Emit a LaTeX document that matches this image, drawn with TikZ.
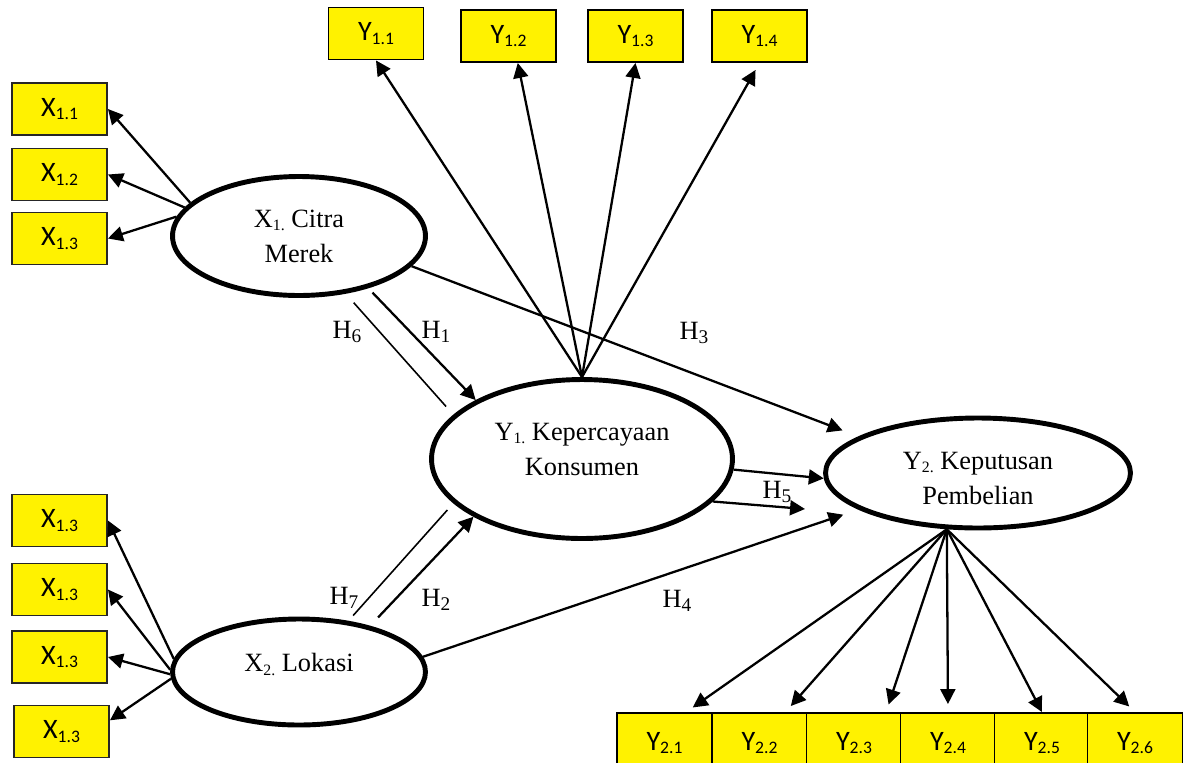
\documentclass[tikz,border=0pt]{standalone}
\usepackage{fontspec}
\setmainfont{Liberation Serif}
\newfontfamily\boxfont{Carlito}
\usetikzlibrary{shapes.geometric,arrows.meta}
\newcommand{\subidx}[2][9]{\raisebox{-2pt}{\fontsize{#1}{#1}\selectfont #2}}

\begin{document}
\begin{tikzpicture}[x=0.02cm,y=-0.02cm,>={Triangle[length=8.5pt,width=8.5pt]}]
    \useasboundingbox (0,0) rectangle (1184,762);

    % Stijlen
    \tikzset{ind/.style={rectangle, draw=black!85, line width=1.1pt, fill=yellow,
                 minimum width=1.9cm, minimum height=1.04cm, inner sep=0pt,
                 font=\boxfont\fontsize{16}{18}\selectfont},
             lat/.style={ellipse, draw, line width=2.8pt, align=center, inner sep=1pt,
                 font=\fontsize{15}{20}\selectfont},
             lbl/.style={inner sep=0pt, font=\fontsize{15}{18}\selectfont},
             pad/.style={->, line width=1.3pt},
             hyp/.style={->, line width=1.3pt},
             ind line/.style={line width=0.9pt}}

    % Konstruk
    \node[lat, minimum width=5.06cm, minimum height=2.38cm] (x1) at (299,236) {X\subidx{1.} Citra\\Merek};
    \node[lat, minimum width=6.02cm, minimum height=3.18cm] (y1) at (582,459) {Y\subidx{1.} Kepercayaan\\Konsumen\rule[-11.4pt]{0pt}{11.4pt}};
    \node[lat, minimum width=6.1cm, minimum height=2.2cm] (y2) at (978,473) {\rule{0pt}{16pt}Y\subidx{2.} Keputusan\\Pembelian};
    \node[lat, minimum width=5.06cm, minimum height=2.12cm] (x2) at (299,672) {X\subidx{2.} Lokasi\rule[-11pt]{0pt}{11pt}};

    % Indikator X1
    \node[ind] (xa) at (59.5,109) {X\subidx[10]{1.1}};
    \node[ind] (xb) at (59.5,174.5) {X\subidx[10]{1.2}};
    \node[ind] (xc) at (59.5,238.5) {X\subidx[10]{1.3}};

    % Indikator X2
    \node[ind] (xd) at (59.5,520.5) {X\subidx[10]{1.3}};
    \node[ind] (xe) at (59.5,589.5) {X\subidx[10]{1.3}};
    \node[ind] (xf) at (59.5,657) {X\subidx[10]{1.3}};
    \node[ind] (xg) at (61.5,731.5) {X\subidx[10]{1.3}};

    % Indikator Y1
    \node[ind, draw=black] (ya) at (376,33.5) {Y\subidx[10]{1.1}};
    \node[ind, draw=black] (yb) at (508.5,36) {Y\subidx[10]{1.2}};
    \node[ind, draw=black] (yc) at (635.5,36) {Y\subidx[10]{1.3}};
    \node[ind, draw=black] (yd) at (759.5,36) {Y\subidx[10]{1.4}};

    % Indikator Y2
    \node[ind, draw=black, minimum height=1.2cm] (y2a) at (664.5,743) {Y\subidx[10]{2.1}};
    \node[ind, draw=black, minimum height=1.2cm] (y2b) at (759.5,743) {Y\subidx[10]{2.2}};
    \node[ind, draw=black, minimum height=1.2cm] (y2c) at (854,743) {Y\subidx[10]{2.3}};
    \node[ind, draw=black, minimum height=1.2cm] (y2d) at (948,743) {Y\subidx[10]{2.4}};
    \node[ind, draw=black, minimum height=1.2cm] (y2e) at (1042,743) {Y\subidx[10]{2.5}};
    \node[ind, draw=black, minimum height=1.2cm] (y2f) at (1135,743) {Y\subidx[10]{2.6}};

    % Hipotesis
    \node[lbl] (h6) at (347,332) {H\subidx[11]{6}};
    \node[lbl] (h1) at (436,332) {H\subidx[11]{1}};
    \node[lbl] (h3) at (694,333) {H\subidx[11]{3}};
    \node[lbl] (h5) at (777,492) {H\subidx[11]{5}};
    \node[lbl] (h7) at (344,598) {H\subidx[11]{7}};
    \node[lbl] (h2) at (436,600) {H\subidx[11]{2}};
    \node[lbl] (h4) at (677,601) {H\subidx[11]{4}};
    \coordinate (h5tip) at (805,509);

    % Loading X1
    \draw[pad] (x1.163) -- (xa.east);
    \draw[pad] (x1.166) -- (xb.east);
    \draw[pad] (x1.171) -- (xc.east);

    % Loading X2
    \draw[pad] (x2.174) -- (xd.east);
    \draw[pad] (x2.179) -- (xe.east);
    \draw[pad] (x2.181) -- (xf.east);
    \draw[pad] (x2.183) -- (xg.13);

    % Loading Y1
    \draw[pad] (y1.north) -- (ya.south);
    \draw[pad] (y1.north) -- (yb.-71);
    \draw[pad] (y1.north) -- (yc.south);
    \draw[pad, shorten >=0.16cm] (y1.north) -- (yd.south);

    % Loading Y2
    \draw[pad, shorten >=0.16cm] (y2.241) -- (y2a.55);
    \draw[pad, shorten >=0.16cm] (y2.241) -- (y2b.50);
    \draw[pad, shorten >=0.16cm] (y2.241) -- (y2c.44);
    \draw[pad, shorten >=0.16cm] (y2.241) -- (y2d.north);
    \draw[pad] (y2.241) -- (y2e.north);
    \draw[pad, shorten >=0.16cm] (y2.241) -- (y2f.north);

    % Pengaruh
    \draw[hyp, shorten <=0.12cm] (x1.-37) -- (y1.151);
    \draw[ind line, shorten <=0.24cm, shorten >=0.22cm] (x1.-51) -- (y1.161);
    \draw[hyp, shorten <=0.23cm] (x2.33) -- (y1.208);
    \draw[ind line, shorten <=0.14cm, shorten >=0.18cm] (x2.46) -- (y1.199);
    \draw[hyp, shorten >=0.34cm] (x1.-15) -- (y2.163);
    \draw[hyp, shorten >=0.32cm] (x2.7) -- (y2.197);
    \draw[hyp] (y1.-4) -- (y2.182);
    \draw[hyp] (y1.-18) -- (h5tip);
\end{tikzpicture}
\end{document}
